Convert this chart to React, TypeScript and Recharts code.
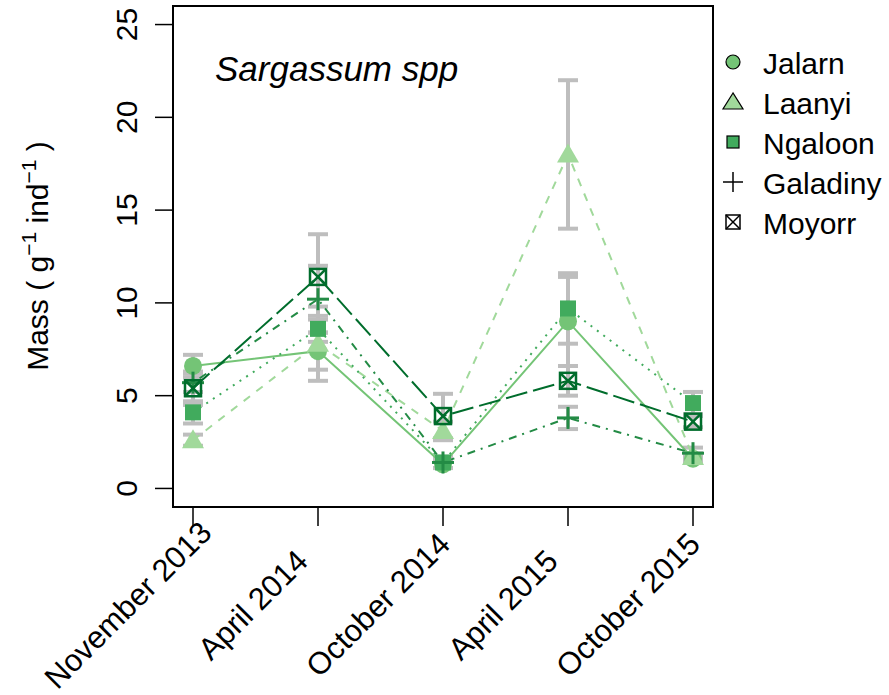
import React from 'react';
import { ComposedChart, Line, XAxis, YAxis, ErrorBar, ReferenceArea } from 'recharts';

const periods = ['November 2013', 'April 2014', 'October 2014', 'April 2015', 'October 2015'];
const yTicks = [0, 5, 10, 15, 20, 25];

const jalarn = [6.6, 7.4, 1.3, 9.0, 1.6];
const jalarnErr = [0.6, 1.0, 0.2, 2.4, 0.2];
const laanyi = [2.6, 7.8, 3.1, 18.0, 1.7];
const laanyiErr = [0.3, 2.0, 0.5, 4.0, 0.2];
const ngaloon = [4.1, 8.6, 1.4, 9.7, 4.6];
const ngaloonErr = [0.6, 0.7, 0.3, 1.9, 0.6];
const galadiny = [5.7, 10.2, 1.4, 3.8, 1.9];
const galadinyErr = [0.5, 1.8, 0.3, 0.6, 0.3];
const moyorr = [5.4, 11.4, 3.9, 5.8, 3.6];
const moyorrErr = [0.9, 2.3, 1.2, 0.8, 0.3];

const FONT = '"Liberation Sans", Arial, sans-serif';

const series = [
  { key: 'jalarn', name: 'Jalarn', color: '#74c476', dash: undefined, shape: 'circle' },
  { key: 'laanyi', name: 'Laanyi', color: '#a1d99b', dash: '8 8', shape: 'triangle' },
  { key: 'ngaloon', name: 'Ngaloon', color: '#41ab5d', dash: '2 6', shape: 'square' },
  { key: 'galadiny', name: 'Galadiny', color: '#238b45', dash: '2 6 8 6', shape: 'plus' },
  { key: 'moyorr', name: 'Moyorr', color: '#006d2c', dash: '22 6', shape: 'boxx' },
];

const data = periods.map((p, i) => ({
  x: i + 1,
  jalarn: jalarn[i],
  jalarnErr: jalarnErr[i],
  laanyi: laanyi[i],
  laanyiErr: laanyiErr[i],
  ngaloon: ngaloon[i],
  ngaloonErr: ngaloonErr[i],
  galadiny: galadiny[i],
  galadinyErr: galadinyErr[i],
  moyorr: moyorr[i],
  moyorrErr: moyorrErr[i],
}));

// plot marker shapes (big, filled)
function Marker({ shape, cx, cy, color }: { shape: string; cx: number; cy: number; color: string }) {
  if (shape === 'circle') return <circle cx={cx} cy={cy} r={9} fill={color} />;
  if (shape === 'triangle')
    return <polygon points={`${cx},${cy - 11} ${cx - 11},${cy + 8} ${cx + 11},${cy + 8}`} fill={color} />;
  if (shape === 'square') return <rect x={cx - 8} y={cy - 8} width={16} height={16} fill={color} />;
  if (shape === 'plus')
    return (
      <g stroke={color} strokeWidth={3}>
        <line x1={cx - 11} y1={cy} x2={cx + 11} y2={cy} />
        <line x1={cx} y1={cy - 11} x2={cx} y2={cy + 11} />
      </g>
    );
  return (
    <g stroke={color} strokeWidth={2.5} fill="none">
      <rect x={cx - 8} y={cy - 8} width={16} height={16} />
      <line x1={cx - 8} y1={cy - 8} x2={cx + 8} y2={cy + 8} />
      <line x1={cx - 8} y1={cy + 8} x2={cx + 8} y2={cy - 8} />
    </g>
  );
}

// small legend symbols with black outline
function LegendSymbol({ shape, cx, cy, color }: { shape: string; cx: number; cy: number; color: string }) {
  if (shape === 'circle') return <circle cx={cx} cy={cy} r={7} fill={color} stroke="#000" strokeWidth={1.2} />;
  if (shape === 'triangle')
    return (
      <polygon
        points={`${cx},${cy - 9} ${cx - 10},${cy + 7} ${cx + 10},${cy + 7}`}
        fill={color}
        stroke="#000"
        strokeWidth={1.2}
      />
    );
  if (shape === 'square')
    return <rect x={cx - 6} y={cy - 6} width={12} height={12} fill={color} stroke="#000" strokeWidth={1.2} />;
  if (shape === 'plus')
    return (
      <g stroke="#000" strokeWidth={1.5}>
        <line x1={cx - 10} y1={cy} x2={cx + 10} y2={cy} />
        <line x1={cx} y1={cy - 10} x2={cx} y2={cy + 10} />
      </g>
    );
  return (
    <g stroke="#000" strokeWidth={1.5} fill="none">
      <rect x={cx - 7} y={cy - 7} width={14} height={14} />
      <line x1={cx - 7} y1={cy - 7} x2={cx + 7} y2={cy + 7} />
      <line x1={cx - 7} y1={cy + 7} x2={cx + 7} y2={cy - 7} />
    </g>
  );
}

const XTick = (props: any) => {
  const { x, payload } = props;
  const cx = x - 65;
  const cy = 605;
  return (
    <text
      x={cx}
      y={cy}
      transform={`rotate(-45, ${cx}, ${cy})`}
      textAnchor="middle"
      dominantBaseline="central"
      fontFamily={FONT}
      fontSize={31}
      fill="#000"
    >
      {periods[payload.value - 1]}
    </text>
  );
};

const YTick = (props: any) => {
  const { y, payload } = props;
  const bx = 137;
  return (
    <text
      x={bx}
      y={y}
      transform={`rotate(-90, ${bx}, ${y})`}
      textAnchor="middle"
      fontFamily={FONT}
      fontSize={30}
      fill="#000"
    >
      {payload.value}
    </text>
  );
};

export default function App() {
  return (
    <div style={{ position: 'absolute', left: 0, top: 0, width: 889, height: 695, background: '#fff' }}>
      <ComposedChart
        width={889}
        height={695}
        data={data}
        margin={{ top: 6, right: 176, bottom: 158, left: 113 }}
      >
        <XAxis
          dataKey="x"
          type="number"
          domain={[0.84, 5.16]}
          ticks={[1, 2, 3, 4, 5]}
          allowDataOverflow
          height={30}
          axisLine={false}
          tickSize={19}
          tickLine={{ stroke: '#000', strokeWidth: 1.5 }}
          tick={<XTick />}
          interval={0}
        />
        <YAxis
          type="number"
          domain={[-1, 26]}
          ticks={yTicks}
          allowDataOverflow
          width={60}
          axisLine={false}
          tickSize={18}
          tickLine={{ stroke: '#000', strokeWidth: 1.5 }}
          tick={<YTick />}
          interval={0}
        />

        {/* grey error bars drawn first, under everything */}
        {series.map((s) => (
          <Line
            key={s.key + '-err'}
            dataKey={s.key}
            stroke="none"
            dot={false}
            activeDot={false}
            isAnimationActive={false}
            legendType="none"
          >
            <ErrorBar
              dataKey={s.key + 'Err'}
              direction="y"
              width={10}
              stroke="#bebebe"
              strokeWidth={4}
              isAnimationActive={false}
            />
          </Line>
        ))}

        {series.map((s) => (
          <Line
            key={s.key}
            dataKey={s.key}
            stroke={s.color}
            strokeWidth={2}
            strokeDasharray={s.dash}
            activeDot={false}
            isAnimationActive={false}
            dot={(p: any) => <Marker key={s.key + p.index} shape={s.shape} cx={p.cx} cy={p.cy} color={s.color} />}
          />
        ))}

        <ReferenceArea x1={0.84} x2={5.16} y1={-1} y2={26} fill="none" stroke="#000" strokeWidth={2} ifOverflow="visible" />
      </ComposedChart>

      <svg
        width={889}
        height={695}
        style={{ position: 'absolute', left: 0, top: 0, pointerEvents: 'none' }}
      >
        <text x={215} y={81} fontFamily={FONT} fontStyle="italic" fontSize={35} fill="#000">
          Sargassum spp
        </text>

        <text
          x={48}
          y={256}
          transform="rotate(-90, 48, 256)"
          textAnchor="middle"
          fontFamily={FONT}
          fontSize={30}
          fill="#000"
        >
          Mass ( g<tspan fontSize={21} dy={-12}>−1</tspan>
          <tspan dy={12}> ind</tspan>
          <tspan fontSize={21} dy={-12}>−1</tspan>
          <tspan dy={12}> )</tspan>
        </text>

        {series.map((s, i) => {
          const cy = 62 + i * 40;
          return (
            <g key={s.key}>
              <LegendSymbol shape={s.shape} cx={733} cy={cy} color={s.color} />
              <text x={763} y={cy + 12} fontFamily={FONT} fontSize={30} fill="#000">
                {s.name}
              </text>
            </g>
          );
        })}
      </svg>
    </div>
  );
}
